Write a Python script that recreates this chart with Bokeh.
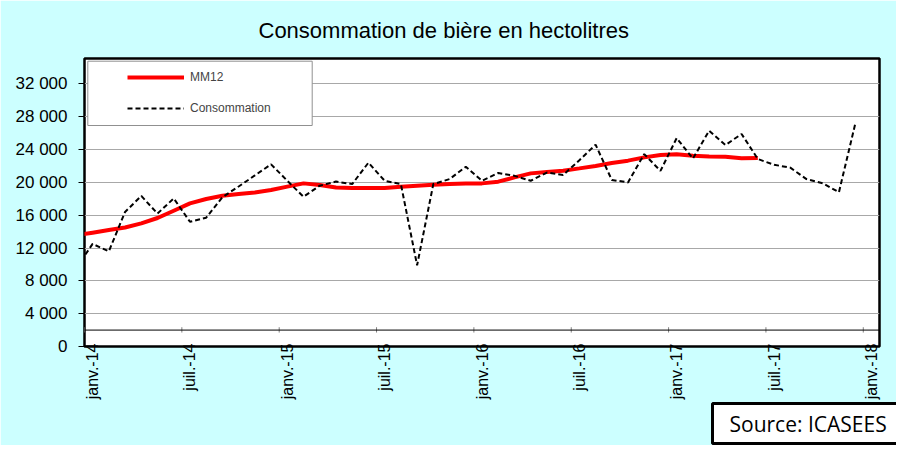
import math
import pandas as pd
from bokeh.plotting import figure
from bokeh.models import (FixedTicker, Span, Legend, LegendItem, BoxAnnotation, Label,
                          Range1d)
from bokeh.embed import file_html
from bokeh.resources import INLINE

# ---- data -------------------------------------------------------------
# monthly points from Dec 2013 (partly cut off at the left edge) to Dec 2017
mois = [str(p) for p in pd.period_range("2013-12", "2017-12", freq="M")]

consommation = [9600,
                12500, 11600, 16400, 18350, 16200, 18050, 15200, 15700, 18200, 19500, 20850, 22200,
                20200, 18250, 19600, 20100, 19800, 22400, 20200, 19800, 9900, 19800, 20400, 21900,
                20200, 21150, 20800, 20200, 21200, 20900, 22700, 24600, 20300, 20000, 23450, 21400,
                25400, 22900, 26300, 24550, 25900, 22850, 22150, 21800, 20400, 19900, 18800, 27100]

mm12 = [13550,
        13870, 14190, 14510, 15000, 15660, 16550, 17440, 17970, 18380, 18590, 18780, 19070,
        19480, 19880, 19680, 19390, 19320, 19320, 19310, 19480, 19600, 19720, 19800, 19880,
        19880, 20090, 20610, 21100, 21270, 21430, 21710, 22000, 22370, 22650, 23050, 23340,
        23420, 23260, 23170, 23130, 22930, 22970]

x_labels = ["janv.-14", "juil.-14", "janv.-15", "juil.-15", "janv.-16",
            "juil.-16", "janv.-17", "juil.-17", "janv.-18"]
y_ticks = [0, 4000, 8000, 12000, 16000, 20000, 24000, 28000, 32000]

title_text = "Consommation de bière en hectolitres"
source_text = "Source: ICASEES"

# ---- positions (month index, Jan 2014 = 0, points at mid-month) -------
def month_index(s):
    y, m = s.split("-")
    return (int(y) - 2014) * 12 + int(m) - 1

x_conso = [month_index(s) + 0.5 for s in mois[:len(consommation)]]
x_mm12 = [month_index(s) + 0.5 for s in mois[:len(mm12)]]
label_pos = [6 * i + 0.5 for i in range(len(x_labels))]
tick_starts = [6 * i for i in range(len(x_labels))]

FONT = "Liberation Sans"

p = figure(width=896, height=445, output_backend="svg", toolbar_location=None,
           x_range=Range1d(0, 49), y_range=Range1d(0, 35100),
           min_border_left=84, min_border_right=17, min_border_top=57, min_border_bottom=99)

p.border_fill_color = "#CCFFFF"
p.background_fill_color = "white"
p.outline_line_color = "black"
p.outline_line_width = 2.5

# title
p.title.text = title_text
p.title.align = "left"
p.title.offset = 174
p.title.standoff = 31
p.title.text_font = FONT
p.title.text_font_size = "22px"
p.title.text_font_style = "normal"
p.title.text_color = "black"

# axes
p.xaxis.ticker = FixedTicker(ticks=label_pos)
p.xaxis.major_label_overrides = {t: l for t, l in zip(label_pos, x_labels)}
p.xaxis.major_label_orientation = math.pi / 2
p.xaxis.major_tick_line_color = None
p.xaxis.minor_tick_line_color = None
p.xaxis.axis_line_color = None
p.xaxis.major_label_standoff = -9
p.xaxis.major_label_text_font = FONT
p.xaxis.major_label_text_font_size = "16px"
p.xaxis.major_label_text_color = "black"

p.yaxis.ticker = FixedTicker(ticks=y_ticks)
p.yaxis.major_label_overrides = {t: f"{t:,}".replace(",", " ") for t in y_ticks}
p.yaxis.axis_line_color = None
p.yaxis.major_tick_out = 6
p.yaxis.major_tick_in = 0
p.yaxis.major_tick_line_color = "black"
p.yaxis.minor_tick_line_color = None
p.yaxis.major_label_standoff = 11
p.yaxis.major_label_text_font = FONT
p.yaxis.major_label_text_font_size = "17px"
p.yaxis.major_label_text_color = "black"

p.xgrid.grid_line_color = None
p.ygrid.grid_line_color = "#A8A8A8"
p.ygrid.grid_line_width = 1

# inner category line with small ticks
p.add_layout(Span(location=2000, dimension="width", line_color="black", line_width=1))
p.segment(x0=tick_starts, x1=tick_starts, y0=[1700] * len(tick_starts), y1=[2350] * len(tick_starts),
          line_color="#808080", line_width=1)

# series
r_mm = p.line(x_mm12, mm12, line_color="#FF0000", line_width=4)
r_co = p.line(x_conso, consommation, line_color="black", line_width=2, line_dash="5 3")

# legend box + legend
p.add_layout(BoxAnnotation(left=3.3, right=227.7, bottom=221, top=285.3,
                           left_units="screen", right_units="screen",
                           bottom_units="screen", top_units="screen",
                           fill_color="white", fill_alpha=1,
                           line_color="#909090", line_width=1, line_alpha=1))
legend = Legend(items=[LegendItem(label="MM12", renderers=[r_mm]),
                       LegendItem(label="Consommation", renderers=[r_co])],
                location=(43, 228), padding=0, spacing=11,
                glyph_width=57, glyph_height=20, label_height=20, label_standoff=6,
                label_text_font=FONT, label_text_font_size="12px",
                background_fill_alpha=0, border_line_alpha=0)
p.add_layout(legend)

# source box, in the bottom side panel
p.add_layout(Label(x=628, y=-1, x_units="screen", y_units="screen", text=source_text,
                   text_align="left", text_baseline="bottom",
                   text_font="Open Sans", text_font_size="21px", text_color="black",
                   background_fill_color="white", background_fill_alpha=1,
                   border_line_color="black", border_line_width=3, border_line_alpha=1,
                   padding=(17, 6)), "below")

open("out.html", "w").write(file_html(p, INLINE))
